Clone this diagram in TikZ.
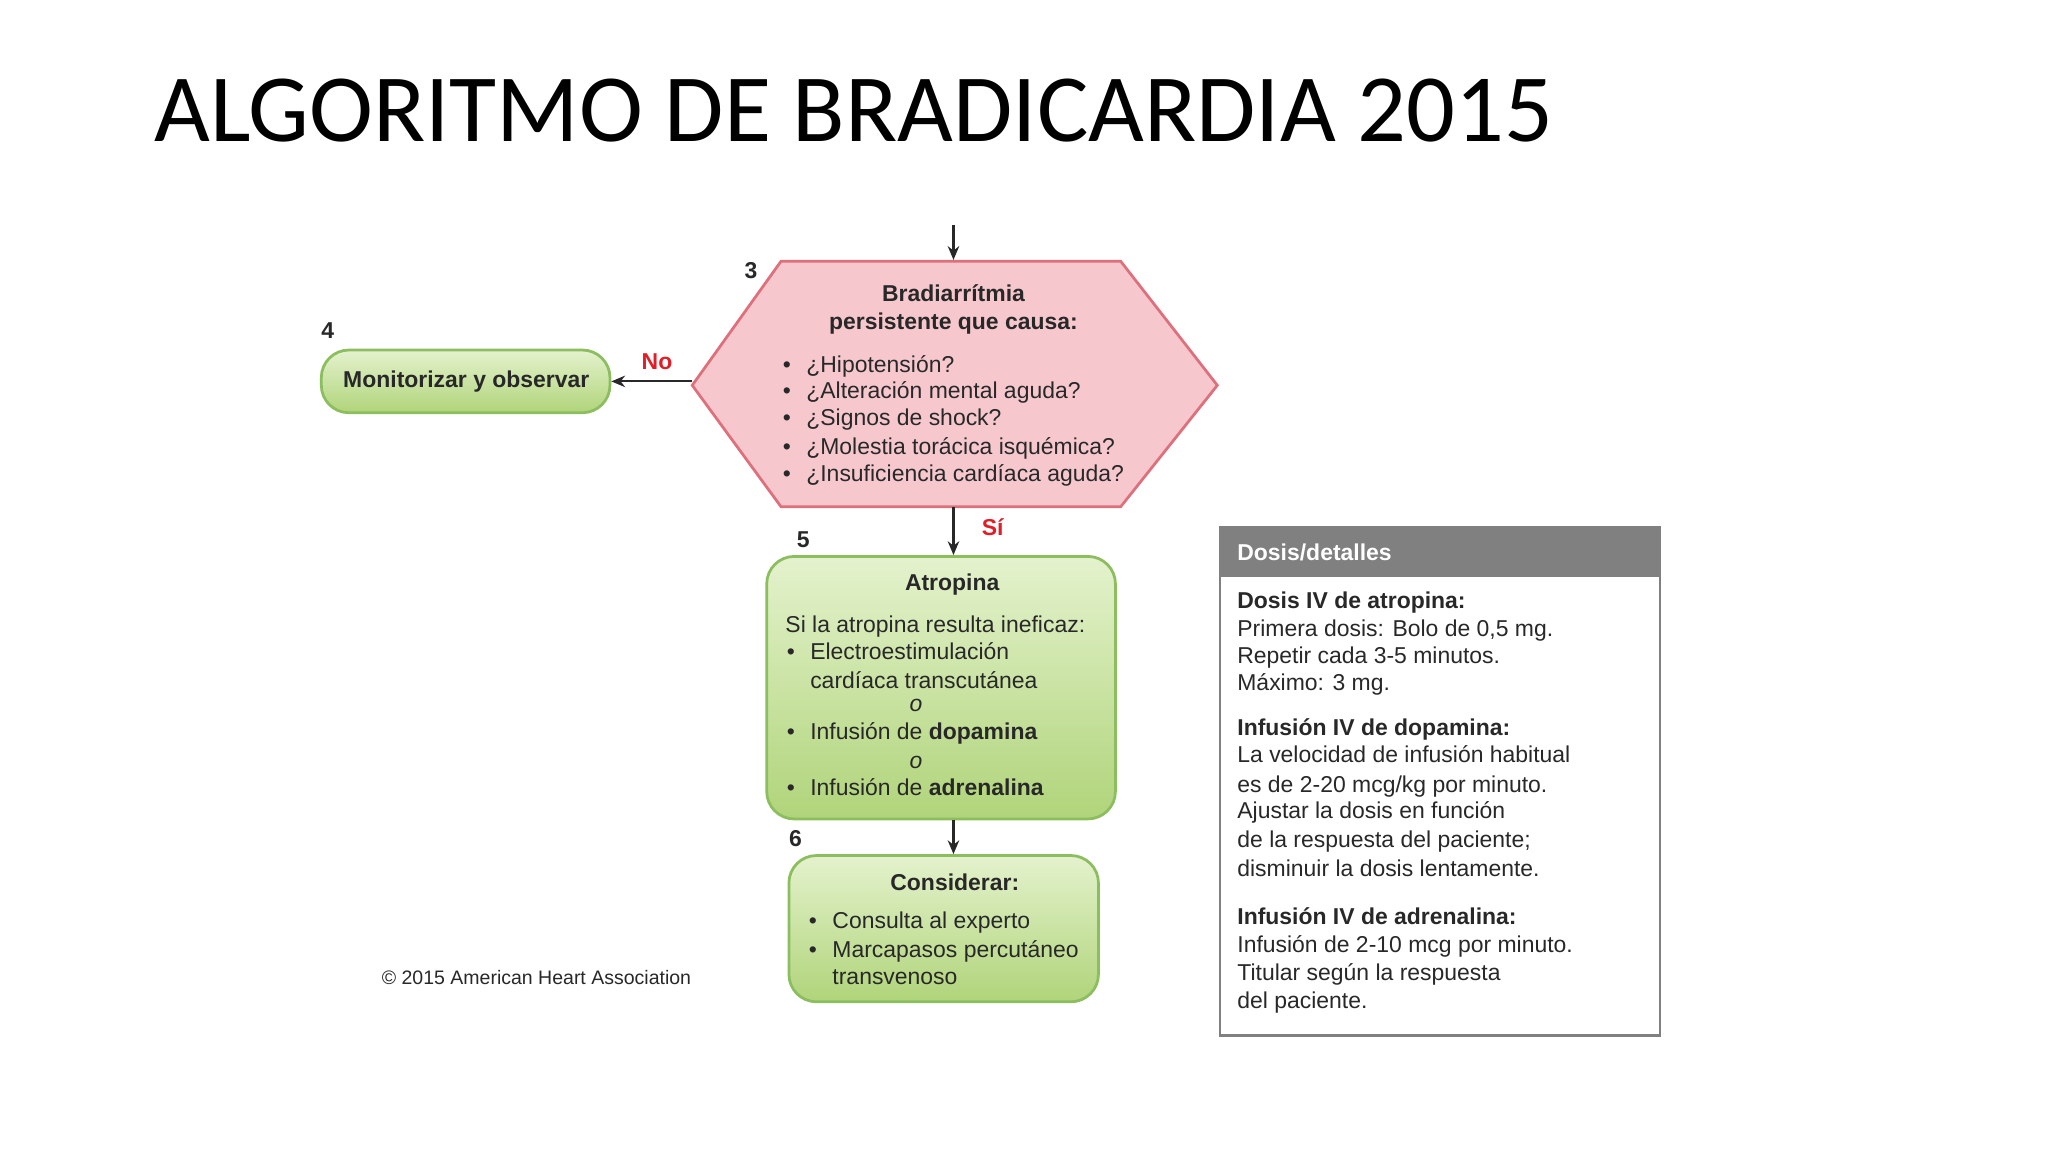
\documentclass[tikz,border=0pt]{standalone}
\usepackage{fontspec}
\setmainfont{Liberation Sans}
\newfontfamily\titlefont{Carlito}
\usetikzlibrary{arrows.meta,shapes.geometric}
\definecolor{hexfill}{RGB}{246,200,206}
\definecolor{hexline}{RGB}{222,112,124}
\definecolor{gtop}{RGB}{228,242,205}
\definecolor{gbot}{RGB}{176,212,122}
\definecolor{gline}{RGB}{140,190,95}
\definecolor{nored}{RGB}{225,30,40}
\definecolor{txt}{RGB}{40,40,40}
\definecolor{hdr}{RGB}{128,128,128}
\tikzset{
 gbox/.style={draw=gline,line width=1.2pt,rounded corners=12pt,top color=gtop,bottom color=gbot},
 t/.style={anchor=base west,inner sep=0pt,font=\fontsize{10}{12}\selectfont,text=txt},
 tb/.style={t,font=\fontsize{10}{12}\selectfont\bfseries},
 tc/.style={anchor=base,inner sep=0pt,font=\fontsize{10}{12}\selectfont\bfseries,text=txt},
 num/.style={anchor=base,inner sep=0pt,font=\fontsize{10}{12}\selectfont\bfseries,text=txt},
 lab/.style={anchor=base,inner sep=0pt,font=\fontsize{10}{12}\selectfont\bfseries,text=nored},
 arr/.style={-{Stealth[length=6pt,width=5pt]},line width=0.9pt,draw=txt},
}
\begin{document}
\begin{tikzpicture}[x=0.02cm,y=-0.02cm]
\useasboundingbox[fill=white] (0,0) rectangle (1568,882);
\node[anchor=base west,inner sep=0pt,font=\fontsize{42}{48}\titlefont] (title) at (118,108) {ALGORITMO DE BRADICARDIA 2015};

% hexagon
\coordinate (top) at (730,172);
\draw[fill=hexfill,draw=hexline,line width=1.2pt] (530,295)--(598,200)--(858,200)--(932,295)--(858,388)--(598,388)--cycle;
\coordinate (hexT) at (730,199);
\coordinate (hexL) at (530,292);
\coordinate (hexB) at (730,388);
\draw[arr] (top)--(hexT);
\node[num] (n3) at (575,213) {3};
\node[tc] (h1) at (730,231) {Bradiarrítmia};
\node[tc] (h2) at (730,252) {persistente que causa:};
\foreach \y/\s in {285/¿Hipotensión?,305/¿Alteración mental aguda?,326/¿Signos de shock?,348/¿Molestia torácica isquémica?,369/¿Insuficiencia cardíaca aguda?}{
 \node[t] at (599,\y) {•};\node[t] at (617,\y) {\s};}

% box 4
\node[gbox,minimum width=221*0.02cm,minimum height=48*0.02cm] (b4) at (356.5,292) {};
\node[num] (n4) at (251,259) {4};
\node[tc] (t4) at (357,297) {Monitorizar y observar};
\draw[arr] (hexL)--(b4.east);
\node[lab] (no) at (503,283) {No};

% box 5
\node[gbox,minimum width=267*0.02cm,minimum height=201*0.02cm] (b5) at (720.5,526.5) {};
\draw[arr] (hexB)--(b5.north-|hexB);
\node[lab] (si) at (760,410) {Sí};
\node[num] (n5) at (615,419) {5};
\node[tc] at (729,452) {Atropina};
\node[t] at (601,484) {Si la atropina resulta ineficaz:};
\node[t] at (602,505) {•};\node[t] at (620,505) {Electroestimulación};
\node[t] at (620,527) {cardíaca transcutánea};
\node[t,font=\fontsize{10}{12}\selectfont\itshape] at (696,545) {o};
\node[t] at (602,566) {•};\node[t] at (620,566) {Infusión de \textbf{dopamina}};
\node[t,font=\fontsize{10}{12}\selectfont\itshape] at (696,588) {o};
\node[t] at (602,609) {•};\node[t] at (620,609) {Infusión de \textbf{adrenalina}};

% box 6
\node[gbox,minimum width=237*0.02cm,minimum height=112*0.02cm] (b6) at (722.5,711) {};
\draw[arr] (b5.south-|hexB)--(b6.north-|hexB);
\node[num] (n6) at (609,648) {6};
\node[tc] at (731,682) {Considerar:};
\node[t] at (619,711) {•};\node[t] at (637,711) {Consulta al experto};
\node[t] at (619,733) {•};\node[t] at (637,733) {Marcapasos percutáneo};
\node[t] at (637,754) {transvenoso};

\node[t,font=\fontsize{8.5}{10}\selectfont] (copy) at (292,754) {© 2015 American Heart Association};

% dosis box
\fill[hdr] (934,404) rectangle (1271,442);
\draw[hdr,line width=1.2pt] (934,404) rectangle (1271,793);
\node[tb,text=white] (hd) at (947,429) {Dosis/detalles};
\node[tb] at (947,466) {Dosis IV de atropina:};
\node[t] at (947,487) {Primera dosis: Bolo de 0,5 mg.};
\node[t] at (947,508) {Repetir cada 3-5 minutos.};
\node[t] at (947,529) {Máximo: 3 mg.};
\node[tb] at (947,563) {Infusión IV de dopamina:};
\node[t] at (947,584) {La velocidad de infusión habitual};
\node[t] at (947,607) {es de 2-20 mcg/kg por minuto.};
\node[t] at (947,627) {Ajustar la dosis en función};
\node[t] at (947,649) {de la respuesta del paciente;};
\node[t] at (947,671) {disminuir la dosis lentamente.};
\node[tb] at (947,708) {Infusión IV de adrenalina:};
\node[t] at (947,729) {Infusión de 2-10 mcg por minuto.};
\node[t] at (947,751) {Titular según la respuesta};
\node[t] at (947,772) {del paciente.};
\end{tikzpicture}
\end{document}
